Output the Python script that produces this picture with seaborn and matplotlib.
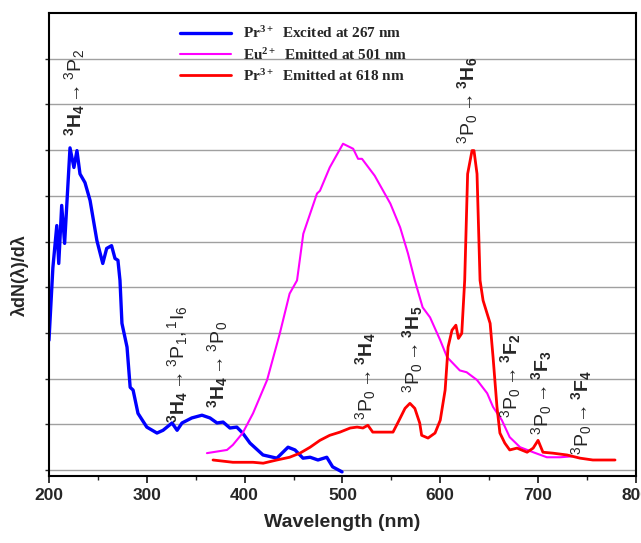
import numpy as np
import pandas as pd
import matplotlib
matplotlib.use("Agg")
import matplotlib.pyplot as plt
import seaborn as sns

# ---------------- data ----------------
pr_exc_x = [200, 204, 208, 210, 213, 216, 221.5, 225.5, 228.6, 231.7, 236.8, 242, 249, 255, 259, 264,
            267.5, 270.5, 272.6, 274.6, 279.8, 283, 286, 291, 300, 310.4, 316.6, 325.8, 331, 336, 346,
            356.4, 364.6, 371.8, 378, 385, 392, 398, 405.5, 418.8, 433, 444.4, 451.5, 459.7, 467, 475,
            484, 490, 499.6]
pr_exc_y = [2.84, 4.43, 5.35, 4.52, 5.79, 4.96, 7.05, 6.62, 6.99, 6.48, 6.29, 5.9, 5.02, 4.52, 4.85, 4.91,
            4.63, 4.59, 4.15, 3.21, 2.69, 1.81, 1.75, 1.24, 0.94, 0.81, 0.87, 1.03, 0.87, 1.03, 1.14,
            1.2, 1.14, 1.03, 1.05, 0.92, 0.94, 0.81, 0.59, 0.33, 0.26, 0.5, 0.44, 0.26, 0.28, 0.22,
            0.28, 0.07, -0.04]

eu_em_x = [361.5, 382, 388, 398, 408.6, 423, 436, 446, 453.6, 460, 474, 477, 487, 500.6, 511, 516, 520,
           533, 549, 559, 567, 574, 582, 589.6, 600, 607, 620, 627, 637.6, 648, 654, 663, 671, 681.6,
           695, 709, 722.5, 735]
eu_em_y = [0.37, 0.44, 0.55, 0.81, 1.24, 1.97, 2.99, 3.86, 4.15, 5.17, 6.05, 6.11, 6.62, 7.14, 7.03, 6.81,
           6.81, 6.44, 5.83, 5.31, 4.74, 4.15, 3.56, 3.34, 2.84, 2.47, 2.18, 2.14, 1.97, 1.68, 1.38,
           1.09, 0.72, 0.5, 0.39, 0.28, 0.28, 0.3]

pr_em_x = [367.7, 388, 408.6, 419, 433, 446, 456.6, 467, 477, 487, 497.5, 508, 515, 521, 526, 531, 541.5,
           551.7, 557, 564, 569, 574, 579, 581, 587.5, 594.7, 600, 605, 608, 612, 616, 618.6, 622, 625,
           628, 632.5, 634.5, 637.6, 640.7, 643.8, 651, 654, 658, 661, 666, 671, 678.5, 688.8, 695, 700,
           705, 715, 729.6, 743, 756, 770.5, 778.7]
pr_em_y = [0.22, 0.17, 0.17, 0.15, 0.22, 0.28, 0.37, 0.5, 0.65, 0.76, 0.83, 0.92, 0.94, 0.92, 0.98, 0.83,
           0.83, 0.83, 1.05, 1.35, 1.46, 1.35, 1.03, 0.76, 0.7, 0.81, 1.09, 1.75, 2.69, 3.06, 3.17, 2.88,
           2.99, 4.15, 6.48, 6.99, 6.99, 6.48, 4.15, 3.71, 3.21, 2.47, 1.38, 0.81, 0.59, 0.44, 0.48, 0.39,
           0.48, 0.65, 0.39, 0.37, 0.33, 0.26, 0.22, 0.22, 0.22]

series_labels = [r"Pr$\mathregular{^{3+}}$  Excited at 267 nm",
                 r"Eu$\mathregular{^{2+}}$  Emitted at 501 nm",
                 r"Pr$\mathregular{^{3+}}$  Emitted at 618 nm"]

x_ticks = [200, 300, 400, 500, 600, 700, 800]

trans_labels = [r"$\mathbf{^{3}H_{4}}\rightarrow\mathrm{^{3}P_{2}}$",
                r"$\mathbf{^{3}H_{4}}\rightarrow\mathrm{^{3}P_{1},{}^{1}I_{6}}$",
                r"$\mathbf{^{3}H_{4}}\rightarrow\mathrm{^{3}P_{0}}$",
                r"$\mathrm{^{3}P_{0}}\rightarrow\mathbf{^{3}H_{4}}$",
                r"$\mathrm{^{3}P_{0}}\rightarrow\mathbf{^{3}H_{5}}$",
                r"$\mathrm{^{3}P_{0}}\rightarrow\mathbf{^{3}H_{6}}$",
                r"$\mathrm{^{3}P_{0}}\rightarrow\mathbf{^{3}F_{2}}$",
                r"$\mathrm{^{3}P_{0}}\rightarrow\mathbf{^{3}F_{3}}$",
                r"$\mathrm{^{3}P_{0}}\rightarrow\mathbf{^{3}F_{4}}$"]
trans_x = [226.6, 331.9, 372.8, 524, 572, 628.4, 672, 704, 744]
trans_y = [7.31, 1.03, 1.35, 1.09, 1.68, 7.14, 1.14, 0.76, 0.33]

# ---------------- plot ----------------
sns.set_theme(style="white")
plt.rcParams["font.family"] = ["Liberation Sans", "DejaVu Sans"]
plt.rcParams["mathtext.fontset"] = "custom"
plt.rcParams["mathtext.rm"] = "Liberation Sans"
plt.rcParams["mathtext.bf"] = "Liberation Sans:bold"
plt.rcParams["mathtext.it"] = "Liberation Sans:italic"

fig = plt.figure(figsize=(6.41, 5.43), dpi=100)
ax = fig.add_axes([0.0764, 0.1234, 0.9156, 0.8526])

df = pd.concat([
    pd.DataFrame({"x": pr_exc_x, "y": pr_exc_y, "s": series_labels[0]}),
    pd.DataFrame({"x": eu_em_x, "y": eu_em_y, "s": series_labels[1]}),
    pd.DataFrame({"x": pr_em_x, "y": pr_em_y, "s": series_labels[2]}),
])
colors = ["#0000ff", "#ff00ff", "#ff0000"]
widths = [2.4, 1.5, 2.0]
for lab, c, w in zip(series_labels, colors, widths):
    sub = df[df["s"] == lab]
    sns.lineplot(data=sub, x="x", y="y", ax=ax, color=c, linewidth=w, label=lab,
                 sort=False, estimator=None)

ax.set_xlim(200, 800)
ax.set_ylim(-0.13, 10.0)
ax.set_yticks(np.arange(0, 10, 1))
ax.set_yticklabels([])
ax.grid(axis="y", color="#a0a0a0", linewidth=1.0)
ax.set_axisbelow(True)
ax.set_xticks(x_ticks)
ax.set_xticks(np.arange(250, 800, 100), minor=True)
ax.tick_params(axis="x", which="major", direction="out", length=5, width=1.3, bottom=True,
               labelsize=12.5)
ax.tick_params(axis="x", which="minor", direction="out", length=3, width=1.0, bottom=True)
ax.tick_params(axis="y", which="major", direction="out", length=3, width=1.0, left=True)
for lab in ax.get_xticklabels():
    lab.set_fontweight("bold")
for sp in ax.spines.values():
    sp.set_color("black")
    sp.set_linewidth(1.5)

ax.set_xlabel("Wavelength (nm)", fontsize=14, fontweight="bold", labelpad=8)
ax.set_ylabel("λdN(λ)/dλ", fontsize=13, fontweight="bold")
ax.yaxis.set_label_coords(-0.035, 0.434)

leg = ax.legend(loc="upper left", bbox_to_anchor=(0.2, 1.003), frameon=False,
                prop={"family": "Liberation Serif", "weight": "bold", "size": 11},
                handlelength=3.3, labelspacing=0.35, handletextpad=0.8)

for t, x, y in zip(trans_labels, trans_x, trans_y):
    ax.text(x, y, t, rotation=90, ha="center", va="bottom", fontsize=14)

fig.savefig("out.png", dpi=100)
